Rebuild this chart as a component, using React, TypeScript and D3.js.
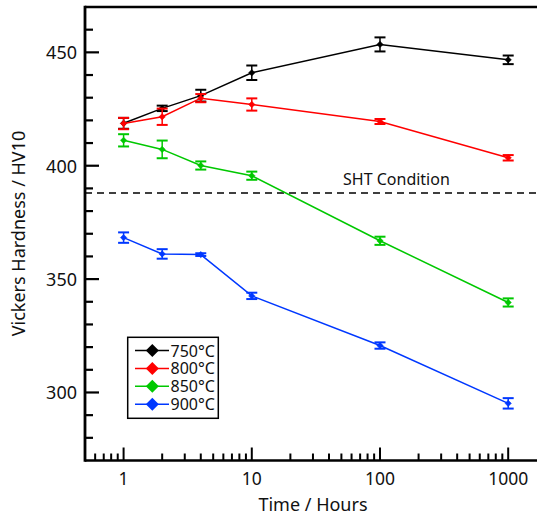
import React from "react";
import * as d3 from "d3";

const times = [1, 2, 4, 10, 100, 1000];
const seriesNames = ["750°C", "800°C", "850°C", "900°C"];
const seriesColors = ["#000000", "#ff0000", "#00c800", "#0038ff"];
const hardness750 = [418.7, 425.3, 430.9, 441.0, 453.5, 446.7];
const error750 = [2.4, 1.2, 2.6, 3.2, 3.1, 1.9];
const hardness800 = [418.6, 421.6, 429.8, 427.0, 419.5, 403.5];
const error800 = [2.5, 3.6, 1.8, 2.7, 1.1, 1.2];
const hardness850 = [411.2, 407.2, 400.1, 395.6, 366.9, 339.7];
const error850 = [2.7, 3.9, 1.8, 1.8, 1.8, 1.8];
const hardness900 = [368.3, 361.1, 360.8, 342.6, 320.7, 295.2];
const error900 = [2.3, 2.1, 0.6, 1.4, 1.4, 2.3];
const shtValue = 388;
const shtLabel = "SHT Condition";
const yMajorTicks = [300, 350, 400, 450];
const xMajorTicks = [1, 10, 100, 1000];
const xTitle = "Time / Hours";
const yTitle = "Vickers Hardness / HV10";

const allValues = [hardness750, hardness800, hardness850, hardness900];
const allErrors = [error750, error800, error850, error900];

const W = 537;
const H = 518;
const FONT = "'Noto Sans', sans-serif";

export default function App() {
  const x = d3.scaleLog().domain([0.5, 2000]).range([85, 85 + Math.log10(4000) * 128.2]);
  const y = d3.scaleLinear().domain([270, 470]).range([460.5, 7]);
  const left = 85;
  const bottom = y(270);
  const top = y(470);

  const yMinor = d3.range(280, 470, 10).filter((v) => !yMajorTicks.includes(v));
  const xMinor: number[] = [];
  [0.1, 1, 10, 100].forEach((dec) => {
    for (let k = 2; k <= 9; k++) {
      const v = dec * k;
      if (v > 0.5 && x(v) < W) xMinor.push(v);
    }
  });

  const line = d3
    .line<number>()
    .x((_, i) => x(times[i]))
    .y((d) => y(d));

  const diamond = (cx: number, cy: number, r: number) =>
    `M${cx},${cy - r}L${cx + r},${cy}L${cx},${cy + r}L${cx - r},${cy}Z`;

  return (
    <svg
      width={W}
      height={H}
      style={{ position: "absolute", left: 0, top: 0, background: "#fff" }}
      fontFamily={FONT}
    >
      {/* SHT dashed line */}
      <line x1={left} x2={W} y1={y(shtValue)} y2={y(shtValue)} stroke="#000" strokeWidth={1.5} strokeDasharray="7 5" />
      <text x={343} y={185} fontSize={16} fill="#111">{shtLabel}</text>

      {/* data series */}
      {allValues.map((vals, si) => (
        <g key={si}>
          <path d={line(vals) || ""} fill="none" stroke={seriesColors[si]} strokeWidth={1.5} />
          {vals.map((v, i) => {
            const cx = x(times[i]);
            const e = allErrors[si][i];
            const y1 = y(v - e);
            const y2 = y(v + e);
            return (
              <g key={i} stroke={seriesColors[si]}>
                <line x1={cx} x2={cx} y1={y1} y2={y2} strokeWidth={1.5} />
                <line x1={cx - 5.5} x2={cx + 5.5} y1={y1} y2={y1} strokeWidth={2} />
                <line x1={cx - 5.5} x2={cx + 5.5} y1={y2} y2={y2} strokeWidth={2} />
                <path d={diamond(cx, y(v), 3.2)} fill={seriesColors[si]} strokeWidth={0.5} />
              </g>
            );
          })}
        </g>
      ))}

      {/* axes frame */}
      <line x1={left} x2={W} y1={top} y2={top} stroke="#000" strokeWidth={2.5} />
      <line x1={left} x2={W} y1={bottom} y2={bottom} stroke="#000" strokeWidth={2.5} />
      <line x1={left} x2={left} y1={top - 1.25} y2={bottom + 1.25} stroke="#000" strokeWidth={2.8} />

      {/* y ticks */}
      {yMajorTicks.map((v) => (
        <g key={v}>
          <line x1={left} x2={left + 14} y1={y(v)} y2={y(v)} stroke="#000" strokeWidth={2.2} />
          <text x={77} y={y(v)} textAnchor="end" dominantBaseline="central" fontSize={18} fill="#111">
            {v}
          </text>
        </g>
      ))}
      {yMinor.map((v) => (
        <line key={v} x1={left} x2={left + 8} y1={y(v)} y2={y(v)} stroke="#000" strokeWidth={2.2} />
      ))}

      {/* x ticks */}
      {xMajorTicks.map((v) => (
        <g key={v}>
          <line x1={x(v)} x2={x(v)} y1={bottom} y2={bottom - 13} stroke="#000" strokeWidth={2} />
          <text x={x(v)} y={478} textAnchor="middle" dominantBaseline="central" fontSize={17.5} fill="#111">
            {v}
          </text>
        </g>
      ))}
      {xMinor.map((v) => (
        <line key={v} x1={x(v)} x2={x(v)} y1={bottom} y2={bottom - 7} stroke="#000" strokeWidth={2} />
      ))}

      {/* titles */}
      <text x={313} y={511} textAnchor="middle" fontSize={18} fill="#111">{xTitle}</text>
      <text
        transform={`translate(25,${233.5}) rotate(-90)`}
        textAnchor="middle"
        fontSize={18}
        fill="#111"
      >
        {yTitle}
      </text>

      {/* legend */}
      <rect x={127.7} y={337.3} width={90.6} height={81} fill="#fff" stroke="#000" strokeWidth={1.5} />
      {seriesNames.map((name, i) => {
        const cy = 350.5 + i * 17.9;
        return (
          <g key={name}>
            <line x1={135} x2={169} y1={cy} y2={cy} stroke={seriesColors[i]} strokeWidth={1.5} />
            <path d={diamond(152.3, cy, 6.5)} fill={seriesColors[i]} />
            <text x={170.5} y={cy} dominantBaseline="central" fontSize={16} fill="#111">
              {name}
            </text>
          </g>
        );
      })}
    </svg>
  );
}
